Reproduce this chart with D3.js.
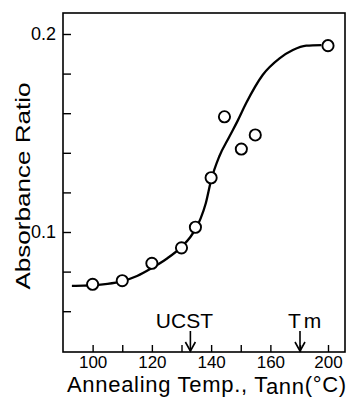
<!DOCTYPE html>
<html>
<head>
<meta charset="utf-8">
<script src="https://cdn.jsdelivr.net/npm/d3@7"></script>
<style>
  body { margin: 0; background: #fff; }
  svg text { font-family: "Liberation Sans", Arial, sans-serif; fill: #000; }
</style>
</head>
<body>
<div id="chart"></div>
<script>
// measured points (annealing temp in degC, absorbance ratio)
const pointTemps = [100, 110, 120, 130, 134.7, 140, 144.5, 150.2, 154.9, 200];
const pointValues = [0.0736, 0.0754, 0.0842, 0.0920, 0.1024, 0.1274, 0.1582, 0.1419, 0.1490, 0.1941];

// hand-drawn fit curve
const curveTemps = [93, 97, 100, 105, 110, 115, 120, 125, 130, 133, 135, 136.5, 138.2, 140, 142.7, 146.1, 148.9, 151.8, 157.4, 163.1, 167.6, 176.7, 193];
const curveValues = [0.0728, 0.0729, 0.0731, 0.0738, 0.0752, 0.0778, 0.0818, 0.0865, 0.0925, 0.0975, 0.1022, 0.1070, 0.1145, 0.1262, 0.138, 0.148, 0.156, 0.165, 0.1793, 0.1877, 0.1919, 0.1941, 0.1944];

const xTicks = [100, 110, 120, 130, 140, 150, 160, 170, 200];
const xTickLabels = ["100", "", "120", "", "140", "", "160", "", "200"];
const yTicks = [0.06, 0.08, 0.1, 0.12, 0.14, 0.16, 0.18, 0.2];
const yTickLabels = { 0.1: "0.1", 0.2: "0.2" };

const markers = [
  { label: "UCST", temp: 133 },
  { label: "Tm", temp: 170 }
];

const width = 351, height = 397;
const margin = { top: 13, right: 6, bottom: 45, left: 63 };

const svg = d3.select("#chart").append("svg")
  .attr("width", width)
  .attr("height", height);

// x axis has a break: 200 sits where 180 would be
const x = d3.scaleLinear()
  .domain([90, 170, 200, 218])
  .range([margin.left, 300, 328, width - margin.right]);

const y = d3.scaleLinear()
  .domain([0.0394, 0.2106])
  .range([height - margin.bottom, margin.top]);

const x0 = margin.left, x1 = width - margin.right;
const y0 = height - margin.bottom, y1 = margin.top;

// frame
svg.append("rect")
  .attr("x", x0).attr("y", y1)
  .attr("width", x1 - x0).attr("height", y0 - y1)
  .attr("fill", "none").attr("stroke", "#000").attr("stroke-width", 1.6);

// bottom axis, ticks inward
const xAxis = d3.axisBottom(x)
  .tickValues(xTicks)
  .tickSize(-7)
  .tickPadding(4)
  .tickFormat((d, i) => xTickLabels[i]);

const gx = svg.append("g")
  .attr("transform", `translate(0,${y0})`)
  .call(xAxis);
gx.select(".domain").remove();
gx.selectAll("line").attr("stroke", "#000").attr("stroke-width", 1.4);
gx.selectAll("text")
  .style("font-size", "17px")
  .attr("dy", "0.71em");

// left axis, ticks inward
const yAxis = d3.axisLeft(y)
  .tickValues(yTicks)
  .tickSize(-8)
  .tickPadding(7)
  .tickFormat(d => yTickLabels[d] || "");

const gy = svg.append("g")
  .attr("transform", `translate(${x0},0)`)
  .call(yAxis);
gy.select(".domain").remove();
gy.selectAll("line").attr("stroke", "#000").attr("stroke-width", 1.4);
gy.selectAll("text").style("font-size", "18px");

// fit curve
const line = d3.line()
  .x((d, i) => x(curveTemps[i]))
  .y((d, i) => y(curveValues[i]))
  .curve(d3.curveMonotoneX);

svg.append("path")
  .datum(curveTemps)
  .attr("d", line)
  .attr("fill", "none")
  .attr("stroke", "#000")
  .attr("stroke-width", 2.3);

// data points
svg.selectAll("circle.pt")
  .data(pointTemps)
  .enter()
  .append("circle")
  .attr("class", "pt")
  .attr("cx", d => x(d))
  .attr("cy", (d, i) => y(pointValues[i]))
  .attr("r", 5.6)
  .attr("fill", "#fff")
  .attr("stroke", "#000")
  .attr("stroke-width", 1.9);

// UCST and Tm arrows
markers.forEach(m => {
  const mx = x(m.temp);
  svg.append("line")
    .attr("x1", mx).attr("x2", mx)
    .attr("y1", y0 - 21).attr("y2", y0 - 1)
    .attr("stroke", "#000").attr("stroke-width", 1.6);
  svg.append("path")
    .attr("d", `M${mx - 5},${y0 - 10} L${mx},${y0 - 1} L${mx + 5},${y0 - 10}`)
    .attr("fill", "none").attr("stroke", "#000").attr("stroke-width", 1.6);
});

svg.append("text")
  .attr("x", x(133) - 6)
  .attr("y", 328)
  .attr("text-anchor", "middle")
  .style("font-size", "21px")
  .text(markers[0].label);

const tm = svg.append("text")
  .attr("x", 288)
  .attr("y", 328)
  .style("font-size", "21px");
tm.append("tspan").text("T");
tm.append("tspan").attr("dx", 3).text("m");

// axis titles
svg.append("text")
  .attr("transform", "translate(30,186) rotate(-90)")
  .attr("text-anchor", "middle")
  .attr("textLength", 207)
  .attr("lengthAdjust", "spacingAndGlyphs")
  .style("font-size", "21px")
  .text("Absorbance Ratio");

const xt = svg.append("text")
  .attr("x", 67)
  .attr("y", 392)
  .style("font-size", "22px")
  .style("letter-spacing", "0.7px");
xt.append("tspan").text("Annealing Temp., T");
xt.append("tspan").attr("dy", 2).text("ann");
xt.append("tspan").attr("dy", -2).text("(°C)");
</script>
</body>
</html>
